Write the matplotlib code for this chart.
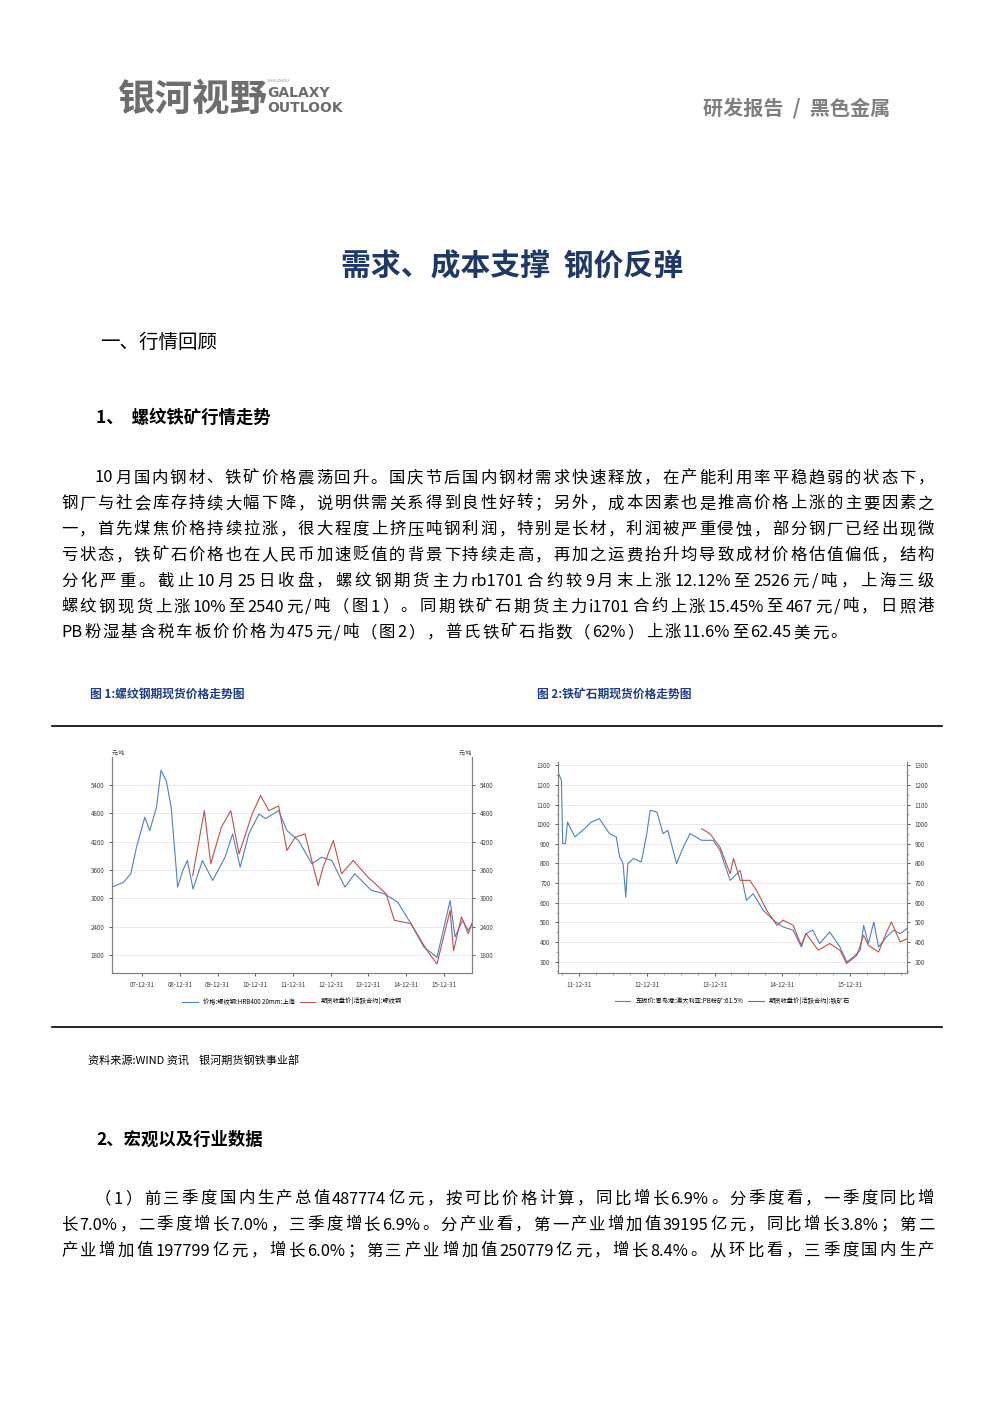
import matplotlib
matplotlib.use("Agg")
import matplotlib.pyplot as plt
import numpy as np
import re

plt.rcParams['font.family'] = ['Noto Sans CJK SC', 'DejaVu Sans']

W, H = 993, 1404
# ---------------- data ----------------
rebar_spot_t = [2007.2,2007.5,2007.7,2007.85,2008.07,2008.2,2008.38,2008.5,2008.64,2008.77,2008.9,2008.94,2009.08,2009.2,2009.35,2009.6,2009.87,2010.2,2010.4,2010.6,2010.83,2011.1,2011.27,2011.62,2011.84,2012.15,2012.5,2012.76,2013.03,2013.38,2013.64,2014.08,2014.42,2014.78,2015.13,2015.47,2015.82,2016.07,2016.17,2016.3,2016.5,2016.65,2016.75]
rebar_spot_v = [3240,3340,3520,4080,4710,4430,4920,5700,5480,4920,3660,3240,3590,3800,3200,3800,3380,3870,4360,3660,4360,4780,4680,4850,4430,4220,3730,3870,3800,3240,3520,3170,3100,2920,2470,1980,1760,2610,2960,2190,2540,2330,2450]
rebar_fut_t = [2009.34,2009.65,2009.82,2010.1,2010.35,2010.57,2010.92,2011.14,2011.36,2011.62,2011.84,2012.06,2012.32,2012.67,2012.8,2013.07,2013.29,2013.6,2013.99,2014.47,2014.69,2015.13,2015.56,2015.82,2016.17,2016.26,2016.47,2016.65,2016.75]
rebar_fut_v = [3480,4850,3730,4500,4850,3940,4780,5170,4850,4950,4010,4290,4360,3270,3660,4220,3520,3800,3450,3100,2540,2470,1900,1620,2750,1900,2610,2260,2480]

ore_spot_t = [2011.69,2011.74,2011.76,2011.8,2011.83,2011.94,2012.11,2012.18,2012.3,2012.45,2012.55,2012.6,2012.65,2012.69,2012.72,2012.8,2012.92,2013.0,2013.05,2013.15,2013.24,2013.31,2013.44,2013.54,2013.64,2013.81,2013.98,2014.08,2014.23,2014.38,2014.47,2014.57,2014.72,2014.87,2015.01,2015.16,2015.28,2015.35,2015.45,2015.55,2015.7,2015.85,2015.95,2016.05,2016.15,2016.2,2016.27,2016.35,2016.42,2016.54,2016.64,2016.74,2016.84]
ore_spot_v = [1266,1224,901,901,1011,935,986,1011,1028,952,935,833,799,629,799,825,808,952,1071,1062,952,969,799,884,952,918,918,867,714,765,612,646,561,511,477,460,375,443,460,392,451,375,298,324,358,485,392,502,375,426,460,443,468]
ore_fut_t = [2013.81,2013.93,2014.08,2014.23,2014.28,2014.38,2014.52,2014.62,2014.77,2014.92,2015.01,2015.16,2015.28,2015.35,2015.53,2015.7,2015.85,2015.95,2016.1,2016.2,2016.27,2016.42,2016.54,2016.61,2016.74,2016.84]
ore_fut_v = [977,952,884,748,825,714,714,663,561,485,511,485,383,443,358,392,358,290,332,434,383,349,451,502,400,417]

rebar_ticks = [1800,2400,3000,3600,4200,4800,5400]
rebar_xticks = [2008.0,2009.0,2010.0,2011.0,2012.0,2013.0,2014.0,2015.0,2016.0]
rebar_xlabels = ['07-12-31','08-12-31','09-12-31','10-12-31','11-12-31','12-12-31','13-12-31','14-12-31','15-12-31']
ore_ticks = [300,400,500,600,700,800,900,1000,1100,1200,1300]
ore_xticks = [2012.0,2013.0,2014.0,2015.0,2016.0]
ore_xlabels = ['11-12-31','12-12-31','13-12-31','14-12-31','15-12-31']

para = ['10 月国内钢材、铁矿价格震荡回升。国庆节后国内钢材需求快速释放，在产能利用率平稳趋弱的状态下，',
        '钢厂与社会库存持续大幅下降，说明供需关系得到良性好转；另外，成本因素也是推高价格上涨的主要因素之',
        '一，首先煤焦价格持续拉涨，很大程度上挤压吨钢利润，特别是长材，利润被严重侵蚀，部分钢厂已经出现微',
        '亏状态，铁矿石价格也在人民币加速贬值的背景下持续走高，再加之运费抬升均导致成材价格估值偏低，结构',
        '分化严重。截止 10 月 25 日收盘，螺纹钢期货主力 rb1701 合约较 9 月末上涨 12.12%至 2526 元/吨，上海三级',
        '螺纹钢现货上涨 10%至 2540 元/吨（图 1）。同期铁矿石期货主力 i1701 合约上涨 15.45%至 467 元/吨，日照港',
        'PB 粉湿基含税车板价价格为 475 元/吨（图 2），普氏铁矿石指数（62%）上涨 11.6%至 62.45 美元。']
para2 = ['（1）前三季度国内生产总值 487774 亿元，按可比价格计算，同比增长 6.9%。分季度看，一季度同比增',
         '长 7.0%，二季度增长 7.0%，三季度增长 6.9%。分产业看，第一产业增加值 39195 亿元，同比增长 3.8%；第二',
         '产业增加值 197799 亿元，增长 6.0%；第三产业增加值 250779 亿元，增长 8.4%。从环比看，三季度国内生产']

BLUE = '#4f81bd'
RED = '#c0504d'

fig = plt.figure(figsize=(W/100, H/100), dpi=100)
fig.patch.set_facecolor('white')
renderer = fig.canvas.get_renderer()

def T(x, y, s, **kw):
    return fig.text(x/W, 1-y/H, s, **kw)

def ax_px(x0, y0, x1, y1):
    return fig.add_axes([x0/W, 1-y1/H, (x1-x0)/W, (y1-y0)/H])

def justified(x0, x1, y, s, fs, justify=True):
    toks = re.findall(r'[A-Za-z0-9.%/]+| |.', s)
    toks = [t for t in toks if t != ' ']
    arts = []
    widths = []
    for t in toks:
        a = T(0, y, t, fontsize=fs, va='center')
        widths.append(a.get_window_extent(renderer).width)
        arts.append(a)
    total = sum(widths)
    n = len(toks)
    gap = (x1 - x0 - total) / (n - 1) if justify else fs * 0.25
    if not justify:
        gap = max(gap, 0)
        gap = 2.0
    x = x0
    for a, w in zip(arts, widths):
        a.set_x(x / W)
        x += w + gap

# header
T(118, 99, '银河视野', fontsize=27, color='#6d6d6d', fontweight='bold', va='center')
T(267, 81, 'SHUI ZHOU', fontsize=3, color='#8a8a8a', va='center')
T(267, 93, 'GALAXY', fontsize=10, color='#6d6d6d', fontweight='bold', va='center', family=['DejaVu Sans Condensed', 'DejaVu Sans'])
T(267, 108, 'OUTLOOK', fontsize=10, color='#6d6d6d', fontweight='bold', va='center', family=['DejaVu Sans Condensed', 'DejaVu Sans'])
T(890, 108, '研发报告  /  黑色金属', fontsize=14.5, color='#7f7f7f', fontweight='bold', va='center', ha='right')

T(512, 266, '需求、成本支撑  钢价反弹', fontsize=21.5, color='#1f3864', fontweight='bold', ha='center', va='center')
T(100, 342, '一、行情回顾', fontsize=14, color='black', va='center')
T(96, 418, '1、  螺纹铁矿行情走势', fontsize=12.5, fontweight='bold', va='center')

for i, s in enumerate(para):
    x0 = 95 if i == 0 else 61
    justified(x0, 934, 478 + i*25.8, s, 11.8, justify=(i < len(para)-1))

T(90, 694, '图 1:螺纹钢期现货价格走势图', fontsize=8.5, color='#1f3c88', fontweight='bold', va='center')
T(537, 694, '图 2:铁矿石期现货价格走势图', fontsize=8.5, color='#1f3c88', fontweight='bold', va='center')

for yy in (726, 1027):
    fig.add_artist(plt.Line2D([52/W, 942/W], [1-yy/H, 1-yy/H], color='black', lw=1.2))

T(88, 1060, '资料来源:WIND 资讯    银河期货钢铁事业部', fontsize=8, va='center')

T(96, 1140, '2、宏观以及行业数据', fontsize=12.5, fontweight='bold', va='center')
for i, s in enumerate(para2):
    x0 = 95 if i == 0 else 61
    justified(x0, 934, 1199 + i*26, s, 11.8, justify=True)

def style(ax, twin):
    for a in (ax, twin):
        for sp in a.spines.values():
            sp.set_color('#808080'); sp.set_linewidth(0.8)
        a.spines['top'].set_visible(False)
        a.tick_params(labelsize=4.5, colors='#404040', length=2, width=0.6)

# chart 1
ax1 = ax_px(112, 757, 472, 973)
ax1.plot(rebar_spot_t, rebar_spot_v, color=BLUE, lw=0.8)
ax1.plot(rebar_fut_t, rebar_fut_v, color=RED, lw=0.8)
ax1.set_xlim(2007.2, 2016.75)
ax1.set_ylim(1430, 5980)
ax1.set_yticks(rebar_ticks)
ax1.set_xticks(rebar_xticks)
ax1.set_xticklabels(rebar_xlabels)
ax1.grid(axis='y', color='#e6e6e6', lw=0.6)
t1 = ax1.twinx(); t1.set_ylim(ax1.get_ylim()); t1.set_yticks(rebar_ticks)
style(ax1, t1)
ax1.text(0, 1.01, '元/吨', transform=ax1.transAxes, fontsize=4, color='#404040')
t1.text(1, 1.01, '元/吨', transform=t1.transAxes, fontsize=4, color='#404040', ha='right')
ax1.legend(['价格:螺纹钢:HRB400 20mm:上海', '期货收盘价(活跃合约):螺纹钢'], loc='upper center',
           bbox_to_anchor=(0.5, -0.09), ncol=2, frameon=False, fontsize=4.5, handlelength=2.5, columnspacing=0.8)

# chart 2
ax2 = ax_px(558, 762, 907, 973)
ax2.plot(ore_spot_t, ore_spot_v, color=BLUE, lw=0.8)
ax2.plot(ore_fut_t, ore_fut_v, color=RED, lw=0.8)
ax2.set_xlim(2011.69, 2016.84)
ax2.set_ylim(242, 1317)
ax2.set_yticks(ore_ticks)
ax2.set_xticks(ore_xticks)
ax2.set_xticklabels(ore_xlabels)
ax2.grid(axis='y', color='#e6e6e6', lw=0.6)
t2 = ax2.twinx(); t2.set_ylim(ax2.get_ylim()); t2.set_yticks(ore_ticks)
style(ax2, t2)
for a in (ax2, t2):
    a.set_yticks(np.arange(250, 1320, 50), minor=True)
    a.tick_params(which='minor', length=1.2, width=0.5, colors='#808080')
ax2.set_xticks(np.arange(2011.75, 2016.9, 0.25), minor=True)
ax2.tick_params(axis='x', which='minor', length=1.2, width=0.5)
ax2.legend(['车板价:青岛港:澳大利亚:PB粉矿:61.5%', '期货收盘价(活跃合约):铁矿石'], loc='upper center',
           bbox_to_anchor=(0.5, -0.09), ncol=2, frameon=False, fontsize=4.5, handlelength=2.5, columnspacing=0.8)

fig.savefig('out.png', dpi=100)
